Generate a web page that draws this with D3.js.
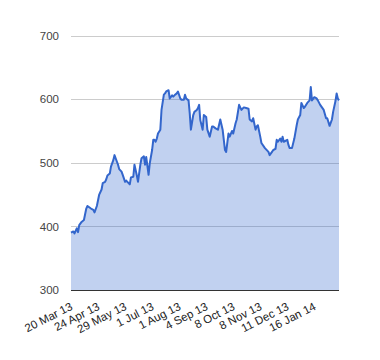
<!DOCTYPE html>
<html>
<head>
<meta charset="utf-8">
<script src="https://cdn.jsdelivr.net/npm/d3@7"></script>
<style>
  html, body { margin: 0; padding: 0; background: #fff; }
  svg { display: block; }
</style>
</head>
<body>
<svg id="chart" width="380" height="360"></svg>
<script>
// Trading-session index (since 20 Mar 13) and closing value
const sessions = [0,2,3,5,6,7,9,11,13,14,17,19,20,22,24,26,27,29,30,31,33,34,36,37,39,40,41,43,44,46,47,48,50,51,53,54,56,57,59,60,62,63,64,66,67,69,70,71,72,73,74,76,77,79,80,81,83,84,86,87,88,90,91,93,94,96,97,98,100,101,102,104,105,107,108,109,110,112,113,115,116,118,120,121,123,125,127,129,131,132,134,135,137,138,140,141,143,145,147,149,151,152,154,155,157,158,159,161,162,165,168,169,171,172,174,175,176,178,179,180,181,184,185,186,188,190,192,193,195,196,198,199,201,203,204,205,207,209,210,212,215,217,218,220,222,223,225,226,227,228];
const prices = [390,392,389,397,391,402,407,410,428,432,428,426,422,432,450,458,468,470,474,480,483,494,504,512,502,497,490,486,481,470,472,470,466,477,478,497,480,470,497,507,510,497,509,481,499,520,536,536,533,538,546,552,583,607,609,612,614,601,606,604,606,609,612,601,599,599,607,601,598,578,552,575,580,583,586,591,567,552,575,572,552,541,557,557,554,552,568,552,520,517,546,541,550,546,562,568,591,583,587,586,585,568,565,570,552,557,559,541,531,523,517,512,517,520,522,536,533,538,533,541,533,536,528,523,523,538,559,568,575,594,586,588,594,598,619,598,603,601,598,591,583,570,570,558,568,580,597,609,601,598];
const tickSessions = [0,23,46,69,92,115,138,161,184,207];
const tickLabels = ["20 Mar 13","24 Apr 13","29 May 13","1 Jul 13","1 Aug 13","4 Sep 13","8 Oct 13","8 Nov 13","11 Dec 13","16 Jan 14"];
const yTicks = [300,400,500,600,700];

const data = sessions.map((s, i) => ({ s, v: prices[i] }));

const margin = { left: 71, right: 41, top: 35.5, bottom: 70 };
const W = 380, H = 360;
const svg = d3.select("#chart");

const x = d3.scaleLinear().domain([0, d3.max(sessions)]).range([margin.left, W - margin.right]);
const y = d3.scaleLinear().domain([300, 700]).range([290, margin.top]);

const font = "Arial, 'Liberation Sans', sans-serif";

// gridlines
svg.append("g").selectAll("line").data(yTicks.filter(t => t !== 300)).join("line")
  .attr("x1", x.range()[0]).attr("x2", x.range()[1])
  .attr("y1", d => Math.round(y(d)) + 0.5).attr("y2", d => Math.round(y(d)) + 0.5)
  .attr("stroke", "#cccccc").attr("stroke-width", 1);

// area
const area = d3.area().x(d => x(d.s)).y0(y(300)).y1(d => y(d.v));
svg.append("path").datum(data).attr("d", area)
  .attr("fill", "#3366cc").attr("fill-opacity", 0.3);

// baseline
svg.append("line")
  .attr("x1", x.range()[0]).attr("x2", x.range()[1])
  .attr("y1", Math.round(y(300)) + 0.5).attr("y2", Math.round(y(300)) + 0.5)
  .attr("stroke", "#333333").attr("stroke-width", 1);

// line
const line = d3.line().x(d => x(d.s)).y(d => y(d.v));
svg.append("path").datum(data).attr("d", line)
  .attr("fill", "none").attr("stroke", "#3366cc").attr("stroke-width", 2)
  .attr("stroke-linejoin", "round");

// y axis labels
const yAxis = d3.axisLeft(y).tickValues(yTicks).tickSize(0).tickPadding(12);
const gy = svg.append("g").attr("transform", `translate(${margin.left},0)`).call(yAxis);
gy.select(".domain").remove();
gy.selectAll("text").attr("fill", "#444444").style("font-family", font).style("font-size", "11.5px");

// x axis labels
const xAxis = d3.axisBottom(x).tickValues(tickSessions).tickFormat((d, i) => tickLabels[i]).tickSize(0).tickPadding(0);
const gx = svg.append("g").attr("transform", `translate(0,${y(300)})`).call(xAxis);
gx.select(".domain").remove();
gx.selectAll("text")
  .attr("fill", "#222222")
  .style("font-family", font).style("font-size", "11.5px")
  .attr("text-anchor", "end")
  .attr("dy", null)
  .attr("y", null)
  .attr("transform", "translate(2,19) rotate(-27)");
</script>
</body>
</html>
